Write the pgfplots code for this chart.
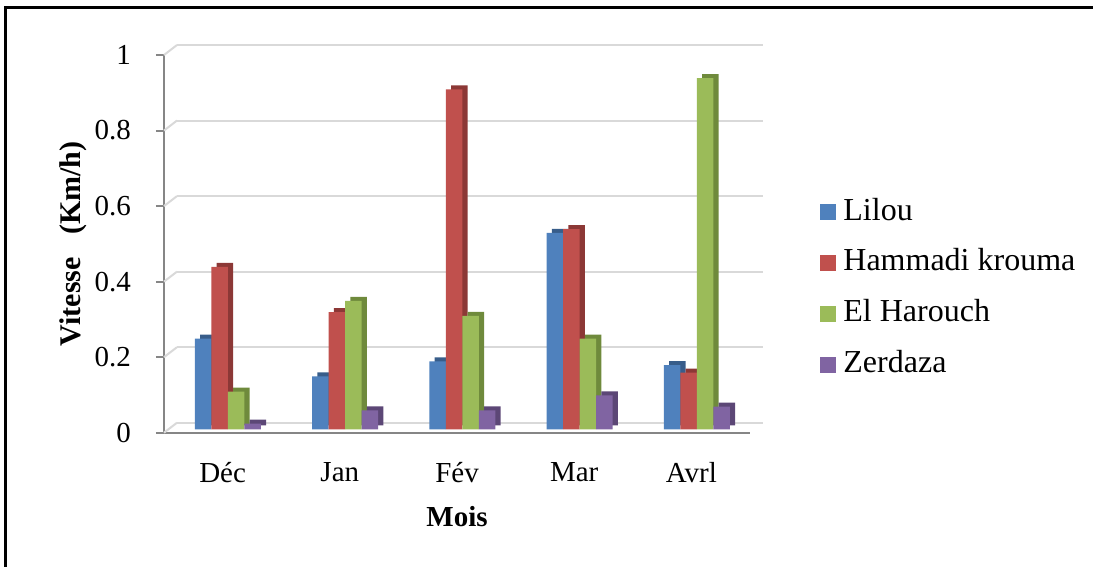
\documentclass[border=0pt]{standalone}
\usepackage{pgfplots}
\pgfplotsset{compat=1.18}
\usepackage{fontspec}
\setmainfont{Liberation Serif}
\definecolor{cb}{HTML}{4F81BD}\definecolor{cbd}{HTML}{385D8A}
\definecolor{cr}{HTML}{C0504D}\definecolor{crd}{HTML}{8C3836}
\definecolor{cg}{HTML}{9BBB59}\definecolor{cgd}{HTML}{6F8A3C}
\definecolor{cp}{HTML}{8064A2}\definecolor{cpd}{HTML}{5C4776}
\definecolor{axisgray}{HTML}{868686}
\definecolor{gridgray}{HTML}{D9D9D9}
\begin{document}
\begin{tikzpicture}
\useasboundingbox (0,0) rectangle (546.5pt,-283.5pt);
\begin{scope}
\clip (0,0) rectangle (546.5pt,-283.5pt);
\draw[line width=1.5pt] (2.65pt,-290pt) -- (2.65pt,-3.75pt) -- (560pt,-3.75pt);
\end{scope}
\begin{axis}[
  at={(82pt,-216.35pt)}, anchor=south west,
  scale only axis, width=293pt, height=188.85pt,
  xmin=-0.5, xmax=4.5, ymin=0, ymax=1,
  clip=false,
  axis x line*=bottom, axis y line*=left,
  axis line style={draw=axisgray, line width=1pt, -},
  xtick={0,1,2,3,4}, xticklabels={Déc,Jan,Fév,Mar,Avrl},
  ytick={0,0.2,0.4,0.6,0.8,1},
  x tick style={draw=none},
  y tick style={draw=axisgray, line width=1pt},
  tick align=outside, major tick length=4pt,
  ymajorgrids,
  major grid style={draw=gridgray, line width=1pt, xshift=6.5pt, yshift=5pt},
  tick label style={font=\fontsize{14.5}{17}\selectfont},
  /pgf/number format/assume math mode=true,
  yticklabel style={xshift=-9pt},
  xticklabel style={yshift=-7.5pt},
  every axis x label/.style={at={(axis description cs:0.5,-0.223)}, anchor=center, font=\fontsize{14.5}{17}\selectfont\bfseries},
  every axis y label/.style={at={(axis description cs:-0.155,0.5)}, rotate=90, anchor=center, font=\fontsize{15}{18}\selectfont\bfseries},
  xlabel={Mois},
  ylabel={Vitesse\ \ \ (Km/h)},
  ybar, bar width=8.25pt,
  legend style={at={(1.1195,0.622)}, anchor=north west, draw=none, fill=none,
    font=\fontsize{16}{19}\selectfont, inner sep=0pt, row sep=11.4pt, column sep=3.5pt,
    nodes={inner sep=0pt, text height=11pt, text depth=3pt}},
  legend cell align=left,
  legend image code/.code={\fill[#1] (0pt,-4pt) rectangle (8pt,4pt);},
]
\pgfplotsinvokeforeach{0,0.2,0.4,0.6,0.8,1}{\draw[gridgray, line width=1pt] (axis cs:-0.5,#1) -- ++(6.5pt,5pt);}
% Lilou
\addplot[forget plot, fill=cbd, draw=none, bar shift=-7.075pt, yshift=3.7pt] coordinates {(0,0.24) (1,0.14) (2,0.18) (3,0.52) (4,0.17)};
\addplot[forget plot, fill=cb, draw=none, bar shift=-9.675pt, yshift=1.7pt] coordinates {(0,0.24) (1,0.14) (2,0.18) (3,0.52) (4,0.17)};
% Hammadi krouma
\addplot[forget plot, fill=crd, draw=none, bar shift=1.175pt, yshift=3.7pt] coordinates {(0,0.43) (1,0.31) (2,0.90) (3,0.53) (4,0.15)};
\addplot[forget plot, fill=cr, draw=none, bar shift=-1.425pt, yshift=1.7pt] coordinates {(0,0.43) (1,0.31) (2,0.90) (3,0.53) (4,0.15)};
% El Harouch
\addplot[forget plot, fill=cgd, draw=none, bar shift=9.425pt, yshift=3.7pt] coordinates {(0,0.10) (1,0.34) (2,0.30) (3,0.24) (4,0.93)};
\addplot[forget plot, fill=cg, draw=none, bar shift=6.825pt, yshift=1.7pt] coordinates {(0,0.10) (1,0.34) (2,0.30) (3,0.24) (4,0.93)};
% Zerdaza
\addplot[forget plot, fill=cpd, draw=none, bar shift=17.675pt, yshift=3.7pt] coordinates {(0,0.015) (1,0.05) (2,0.05) (3,0.09) (4,0.06)};
\addplot[forget plot, fill=cp, draw=none, bar shift=15.075pt, yshift=1.7pt] coordinates {(0,0.015) (1,0.05) (2,0.05) (3,0.09) (4,0.06)};
\addlegendimage{fill=cb, draw=none}
\addlegendimage{fill=cr, draw=none}
\addlegendimage{fill=cg, draw=none}
\addlegendimage{fill=cp, draw=none}
\legend{Lilou, Hammadi krouma, El Harouch, Zerdaza}
\end{axis}
\end{tikzpicture}
\end{document}
